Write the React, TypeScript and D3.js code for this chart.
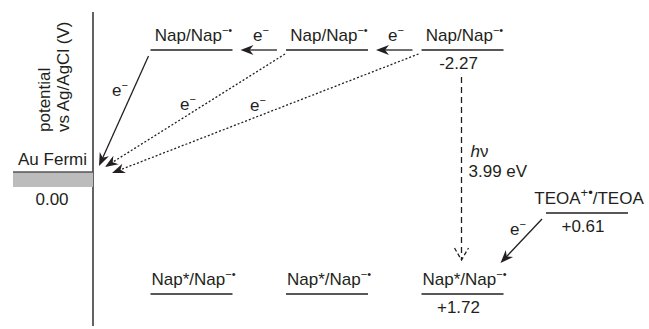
import React from 'react';
import * as d3 from 'd3';

// energy levels (potential vs Ag/AgCl, V) and column they sit in
const levelLabels = ['Nap/Nap', 'Nap/Nap', 'Nap/Nap', 'Nap*/Nap', 'Nap*/Nap', 'Nap*/Nap', 'TEOA'];
const levelSups = ['−•', '−•', '−•', '−•', '−•', '−•', '+•'];
const levelSuffix = ['', '', '', '', '', '', '/TEOA'];
const levelCols = [0, 1, 2, 0, 1, 2, 3];
const levelPotentials = [-2.27, -2.27, -2.27, 1.72, 1.72, 1.72, 0.61];
const levelValueText = ['', '', '-2.27', '', '', '+1.72', '+0.61'];

const fermiPotential = 0.0;
const fermiLabel = 'Au Fermi';
const fermiValue = '0.00';
const gapText = ['hν', '3.99 eV'];
const axisTitle = ['potential', 'vs Ag/AgCl (V)'];

const W = 649;
const H = 329;
const FS = 17;
const ink = '#231f20';

export default function App() {
  // diagram is not to scale, so the potential axis is piecewise
  const y = d3.scaleLinear().domain([-2.27, 0, 0.61, 1.72]).range([50, 172, 213, 294]);
  const x = d3.scaleLinear().domain([0, 1, 2, 3]).range([191.5, 327, 462.5, 587]);
  const halfW = 41;
  const axisX = 93;

  const head = (x1: number, y1: number, x2: number, y2: number, len = 13, wid = 5) => {
    const a = Math.atan2(y2 - y1, x2 - x1);
    const ux = Math.cos(a), uy = Math.sin(a);
    const px = -uy, py = ux;
    const bx = x2 - ux * len, by = y2 - uy * len;
    const nx = x2 - ux * len * 0.7, ny = y2 - uy * len * 0.7;
    return `M${x2},${y2}L${bx + px * wid},${by + py * wid}L${nx},${ny}L${bx - px * wid},${by - py * wid}Z`;
  };

  const fy = y(fermiPotential);
  const top = y(-2.27);
  const bot = y(1.72);
  const teoa = y(0.61);

  // electron transfer arrows: [x1, y1, x2, y2, dotted]
  const arrows: [number, number, number, number, boolean][] = [
    [x(0) - halfW - 2, top + 6, axisX + 6, fy - 6, false],
    [x(1) - halfW - 1, top + 4, axisX + 12, fy - 5, true],
    [x(2) - halfW - 3, top + 4, axisX + 19, fy + 1, true],
    [x(1) - halfW - 9, top, x(0) + halfW + 8, top, false],
    [x(2) - halfW - 9, top, x(1) + halfW + 8, top, false],
    [x(3) - halfW - 4, teoa + 6, x(2) + 38, bot - 31, false],
  ];
  const eLabels: [number, number][] = [
    [112, 96], [180, 110], [250, 111], [253, 41], [388, 41], [510, 235],
  ];

  const vx = x(2) - 1;
  const vy1 = top + 27;
  const vy2 = bot - 34;

  return (
    <svg width={W} height={H} style={{ position: 'absolute', left: 0, top: 0 }}
      fontFamily="'Liberation Sans', Arial, sans-serif" fontSize={FS} fill={ink}>
      <rect width={W} height={H} fill="#fff" />
      {/* axis */}
      <line x1={axisX} x2={axisX} y1={12} y2={326} stroke={ink} strokeWidth={1.4} />
      {axisTitle.map((t, i) => (
        <text key={t} transform={`translate(${50 + i * 19},132) rotate(-90)`}>{t}</text>
      ))}
      {/* Au Fermi level */}
      <rect x={13} y={fy} width={axisX - 13} height={15} fill="#bcbcbc" />
      <line x1={13} x2={axisX} y1={fy} y2={fy} stroke="#555" strokeWidth={1.5} />
      <text x={87} y={fy - 7} textAnchor="end">{fermiLabel}</text>
      <text x={52} y={fy + 33} textAnchor="middle">{fermiValue}</text>

      {/* levels */}
      {levelLabels.map((lab, i) => {
        const cx = x(levelCols[i]);
        const ly = y(levelPotentials[i]);
        return (
          <g key={i}>
            <line x1={cx - halfW} x2={cx + halfW} y1={ly} y2={ly} stroke={ink} strokeWidth={1.4} />
            <text x={cx + 2} y={ly - 9} textAnchor="middle">
              {lab}
              <tspan fontSize={i === 6 ? 13 : 11} dy={-7}>{levelSups[i]}</tspan>
              {levelSuffix[i] && <tspan dy={7}>{levelSuffix[i]}</tspan>}
            </text>
            {levelValueText[i] && (
              <text x={cx - 4} y={ly + 19} textAnchor="middle">{levelValueText[i]}</text>
            )}
          </g>
        );
      })}

      {/* arrows */}
      {arrows.map(([x1, y1, x2, y2, dotted], i) => {
        const a = Math.atan2(y2 - y1, x2 - x1);
        return (
          <g key={i}>
            <line x1={x1} y1={y1} x2={x2 - Math.cos(a) * 8} y2={y2 - Math.sin(a) * 8}
              stroke={ink} strokeWidth={1.3} strokeDasharray={dotted ? '2,2' : undefined} />
            <path d={head(x1, y1, x2, y2)} fill={ink} />
          </g>
        );
      })}
      {eLabels.map(([ex, ey], i) => (
        <text key={i} x={ex} y={ey}>e<tspan fontSize={11} dy={-7}>−</tspan></text>
      ))}

      {/* excitation */}
      <line x1={vx} x2={vx} y1={vy1} y2={vy2} stroke={ink} strokeWidth={1.3} strokeDasharray="6,4" />
      <path d={`M${vx - 7},${vy2 - 12}L${vx},${vy2}L${vx + 7},${vy2 - 12}`} fill="none" stroke={ink}
        strokeWidth={1.3} strokeDasharray="4,2.5" />
      <text x={vx + 9} y={157}><tspan fontStyle="italic">h</tspan>ν</text>
      <text x={vx + 7} y={177}>{gapText[1]}</text>
    </svg>
  );
}
